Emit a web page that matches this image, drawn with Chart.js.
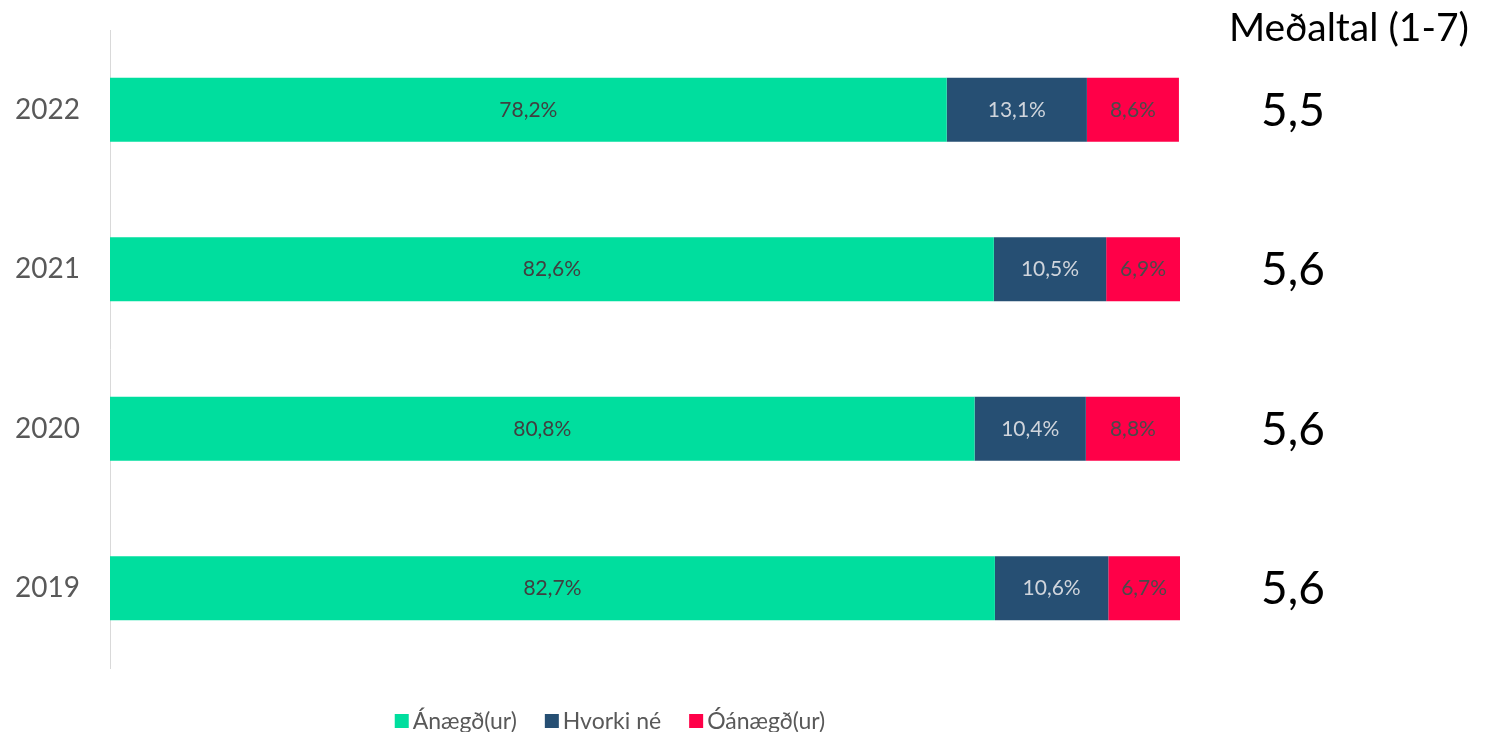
<!DOCTYPE html>
<html><head><meta charset="utf-8">
<script src="https://cdn.jsdelivr.net/npm/chart.js@4/dist/chart.umd.min.js"></script>
<style>html,body{margin:0;padding:0;background:#fff}#wrap{width:1501px;height:732px}</style>
</head><body><div id="wrap"><canvas id="c" width="1501" height="732"></canvas></div>
<script>
const years = ['2022', '2021', '2020', '2019'];
const anaegd = [78.2, 82.6, 80.8, 82.7];
const hvorki = [13.1, 10.5, 10.4, 10.6];
const oanaegd = [8.6, 6.9, 8.8, 6.7];
const medaltal = ['5,5', '5,6', '5,6', '5,6'];
const medaltalTitle = 'Meðaltal (1-7)';
const FONT = 'Lato, "Open Sans", sans-serif';

const labelPlugin = {
  id: 'labels',
  afterDatasetsDraw(chart) {
    const ctx = chart.ctx;
    ctx.save();
    ctx.textAlign = 'center';
    ctx.textBaseline = 'middle';
    ctx.font = '21px ' + FONT;
    chart.data.datasets.forEach((ds, di) => {
      const meta = chart.getDatasetMeta(di);
      meta.data.forEach((bar, i) => {
        const cx = (bar.x + bar.base) / 2;
        ctx.fillStyle = ds.labelColor;
        ctx.fillText(ds.data[i].toFixed(1).replace('.', ',') + '%', cx, bar.y);
      });
    });
    // right side averages
    ctx.fillStyle = '#000';
    ctx.textAlign = 'left';
    ctx.textBaseline = 'alphabetic';
    ctx.font = '39px ' + FONT;
    ctx.fillText(medaltalTitle, 1229, 41);
    const ys = chart.scales.y;
    ctx.textAlign = 'center';
    ctx.textBaseline = 'middle';
    ctx.font = '46px ' + FONT;
    medaltal.forEach((m, i) => {
      ctx.fillText(m, 1293, ys.getPixelForValue(i) + 1);
    });
    // custom legend
    ctx.font = '23px ' + FONT;
    ctx.textAlign = 'left';
    const box = 14, gapBox = 4, gapItem = 28;
    const items = chart.data.datasets.map(d => ({ t: d.label, c: d.backgroundColor, w: ctx.measureText(d.label).width }));
    const total = items.reduce((s, it) => s + box + gapBox + it.w, 0) + gapItem * (items.length - 1);
    let x = 610 - total / 2;
    const ly = 721;
    items.forEach(it => {
      ctx.fillStyle = it.c;
      ctx.fillRect(x, ly - box / 2, box, box);
      x += box + gapBox;
      ctx.fillStyle = '#595959';
      ctx.fillText(it.t, x, ly + 1);
      x += it.w + gapItem;
    });
    ctx.restore();
  }
};

new Chart(document.getElementById('c'), {
  type: 'bar',
  data: {
    labels: years,
    datasets: [
      { label: 'Ánægð(ur)', data: anaegd, backgroundColor: '#00DE9E', labelColor: '#404040' },
      { label: 'Hvorki né', data: hvorki, backgroundColor: '#264F73', labelColor: '#D0D5DC' },
      { label: 'Óánægð(ur)', data: oanaegd, backgroundColor: '#FF0048', labelColor: '#4A4A4A' }
    ]
  },
  options: {
    indexAxis: 'y',
    responsive: false,
    animation: false,
    devicePixelRatio: 1,
    layout: { padding: { top: 30, right: 321, left: 0, bottom: 64 } },
    datasets: { bar: { barPercentage: 0.4, categoryPercentage: 1.0, borderWidth: 0 } },
    scales: {
      x: { stacked: true, min: 0, max: 100, display: false },
      y: {
        stacked: true,
        grid: { display: false, drawTicks: false },
        border: { display: true, color: '#D9D9D9', width: 1 },
        ticks: { color: '#595959', font: { size: 28, family: FONT }, padding: 30 },
        afterFit(scale) { scale.width = 110; scale.paddingTop = 0; scale.paddingBottom = 0; }
      }
    },
    plugins: {
      legend: { display: false },
      tooltip: { enabled: false }
    }
  },
  plugins: [labelPlugin]
});
</script></body></html>
